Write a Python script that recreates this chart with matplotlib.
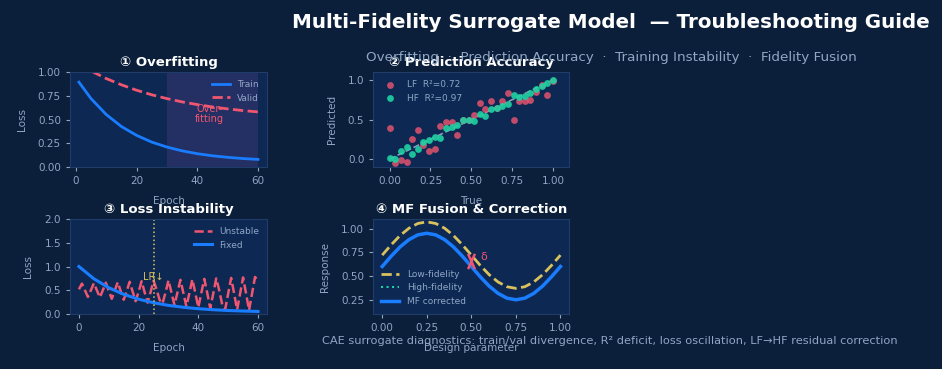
"""Multi-fidelity surrogate troubleshooting card (4 small diagnostic panels)."""

import matplotlib
matplotlib.use("Agg")
import matplotlib.pyplot as plt
import numpy as np
from matplotlib.path import Path

BG = "#0b1f3b"
AX_BG = "#0c2853"
SPINE = "#1f3d68"
MUTED = "#8fa6c4"
PINK = "#f0566f"
BLUE = "#1a7cff"
TEAL = "#1fd2a2"
GOLD = "#d9c25e"

# ① overfitting
fit_epochs = [1, 5, 10, 15, 20, 25, 30, 35, 40, 45, 50, 55, 60]
train_loss = [0.893, 0.719, 0.552, 0.426, 0.333, 0.262, 0.210, 0.170, 0.140, 0.118, 0.102, 0.089, 0.080]
valid_loss = [1.085, 1.011, 0.931, 0.865, 0.808, 0.760, 0.720, 0.685, 0.657, 0.632, 0.612, 0.594, 0.580]

# ② prediction accuracy (30 samples on an even grid of true values)
lf_pred = [0.39, -0.05, -0.01, -0.04, 0.25, 0.37, 0.18, 0.10, 0.13, 0.42,
           0.47, 0.47, 0.30, 0.49, 0.50, 0.56, 0.71, 0.63, 0.73, 0.65,
           0.73, 0.83, 0.50, 0.73, 0.73, 0.75, 0.85, 0.93, 0.81, 0.99]
hf_pred = [0.02, 0.00, 0.10, 0.15, 0.06, 0.125, 0.21, 0.24, 0.275, 0.27,
           0.39, 0.41, 0.43, 0.50, 0.50, 0.48, 0.57, 0.55, 0.63, 0.646,
           0.67, 0.69, 0.81, 0.79, 0.80, 0.84, 0.88, 0.92, 0.96, 1.00]

# ③ loss instability
osc_epochs = list(range(61))
unstable_loss = [0.52, 0.64, 0.50, 0.36, 0.50, 0.65, 0.50, 0.35, 0.50, 0.66,
                 0.49, 0.32, 0.49, 0.67, 0.48, 0.30, 0.48, 0.68, 0.47, 0.27,
                 0.47, 0.69, 0.46, 0.24, 0.46, 0.70, 0.52, 0.30, 0.22, 0.45,
                 0.71, 0.45, 0.19, 0.45, 0.72, 0.44, 0.16, 0.44, 0.73, 0.44,
                 0.14, 0.44, 0.74, 0.44, 0.12, 0.43, 0.75, 0.50, 0.20, 0.10,
                 0.43, 0.76, 0.43, 0.09, 0.43, 0.77, 0.43, 0.08, 0.43, 0.78,
                 0.70]
fixed_epochs = [0, 5, 10, 15, 20, 25, 30, 35, 40, 45, 50, 55, 60]
fixed_loss = [1.00, 0.742, 0.553, 0.414, 0.312, 0.237, 0.182, 0.142, 0.112, 0.090, 0.074, 0.063, 0.054]
lr_drop_epoch = 25

# ④ multi-fidelity fusion
design_x = [0.00, 0.05, 0.10, 0.15, 0.20, 0.25, 0.30, 0.35, 0.40, 0.45, 0.50,
            0.55, 0.60, 0.65, 0.70, 0.75, 0.80, 0.85, 0.90, 0.95, 1.00]
lf_response = [0.720, 0.828, 0.926, 1.003, 1.053, 1.070, 1.053, 1.003, 0.926, 0.828, 0.720,
               0.612, 0.514, 0.437, 0.387, 0.370, 0.387, 0.437, 0.514, 0.612, 0.720]
hf_response = [0.600, 0.708, 0.806, 0.883, 0.933, 0.950, 0.933, 0.883, 0.806, 0.708, 0.600,
               0.492, 0.394, 0.317, 0.267, 0.250, 0.267, 0.317, 0.394, 0.492, 0.600]
mf_response = hf_response
delta_x = 0.5
delta_y = 0.66


def style(ax, title, xlabel, ylabel):
    ax.set_facecolor(AX_BG)
    for sp in ax.spines.values():
        sp.set_color(SPINE)
        sp.set_linewidth(0.8)
    ax.tick_params(colors=MUTED, labelsize=7.5, length=3, width=0.8)
    ax.set_title(title, color="white", fontsize=9.5, weight="bold", pad=4)
    ax.set_xlabel(xlabel, color=MUTED, fontsize=7.5, labelpad=7)
    ax.set_ylabel(ylabel, color=MUTED, fontsize=7.5, labelpad=8)


def legend(ax, **kw):
    return ax.legend(frameon=False, fontsize=6.5, labelcolor=MUTED, **kw)


fig = plt.figure(figsize=(9.42, 3.69), dpi=100)
fig.patch.set_facecolor(BG)

ax1 = fig.add_axes([0.0743, 0.5474, 0.2091, 0.2575])
ax2 = fig.add_axes([0.3963, 0.5474, 0.2081, 0.2575])
ax3 = fig.add_axes([0.0743, 0.149, 0.2091, 0.2575])
ax4 = fig.add_axes([0.3963, 0.149, 0.2081, 0.2575])

# ① overfitting
ax1.axvspan(30, 60, color="#7a4c9c", alpha=0.22, lw=0)
ax1.plot(fit_epochs, train_loss, color=BLUE, lw=2, label="Train")
ax1.plot(fit_epochs, valid_loss, color=PINK, lw=2, ls="--", label="Valid")
ax1.text(44, 0.56, "Over-\nfitting", color=PINK, fontsize=7, ha="center",
         va="center", linespacing=1.0)
ax1.set_ylim(0, 1)
ax1.set_yticks([0, 0.25, 0.5, 0.75, 1.0])
ax1.set_xticks([0, 20, 40, 60])
style(ax1, "① Overfitting", "Epoch", "Loss")
legend(ax1, loc="upper right")

# ② prediction accuracy
true_vals = np.linspace(0, 1, len(hf_pred))
ax2.plot([0, 1], [0, 1], color="#a9bad3", lw=1.2, ls="--", alpha=0.8)
ax2.scatter(true_vals, lf_pred, s=24, color=PINK, alpha=0.8, lw=0,
            label="LF  R²=0.72", zorder=3)
ax2.scatter(true_vals, hf_pred, s=24, color=TEAL, alpha=0.9, lw=0,
            label="HF  R²=0.97", zorder=3)
ax2.set_xlim(-0.1, 1.1)
ax2.set_ylim(-0.1, 1.1)
ax2.set_xticks([0, 0.25, 0.5, 0.75, 1.0])
ax2.set_yticks([0, 0.5, 1.0])
style(ax2, "② Prediction Accuracy", "True", "Predicted")
legend(ax2, loc="upper left")

# ③ loss instability
ax3.plot(osc_epochs, unstable_loss, color=PINK, lw=1.8, ls="--", label="Unstable")
ax3.plot(fixed_epochs, fixed_loss, color=BLUE, lw=2.2, label="Fixed")
ax3.axvline(lr_drop_epoch, color=GOLD, lw=1.1, ls=":")
ax3.text(lr_drop_epoch, 0.78, "LR↓", color=GOLD, fontsize=7, ha="center", va="center")
ax3.set_ylim(0, 2)
ax3.set_yticks([0, 0.5, 1.0, 1.5, 2.0])
ax3.set_xticks([0, 20, 40, 60])
style(ax3, "③ Loss Instability", "Epoch", "Loss")
legend(ax3, loc="upper right")

# ④ multi-fidelity fusion
tall_x = Path([(-0.45, -1), (0.45, 1), (-0.45, 1), (0.45, -1)],
              [Path.MOVETO, Path.LINETO, Path.MOVETO, Path.LINETO])
ax4.plot(design_x, lf_response, color=GOLD, lw=2, ls="--", label="Low-fidelity")
ax4.plot(design_x, hf_response, color=TEAL, lw=1.5, ls=":", label="High-fidelity")
ax4.plot(design_x, mf_response, color=BLUE, lw=2.5, label="MF corrected")
ax4.plot([delta_x], [delta_y], marker=tall_x, ms=11, mew=1.8, color=PINK, ls="none")
ax4.text(delta_x + 0.07, delta_y + 0.04, "δ", color=PINK, fontsize=8, ha="center", va="center")
ax4.set_ylim(0.1, 1.1)
ax4.set_yticks([0.25, 0.5, 0.75, 1.0])
ax4.set_xticks([0, 0.25, 0.5, 0.75, 1.0])
style(ax4, "④ MF Fusion & Correction", "Design parameter", "Response")
legend(ax4, loc="lower left")

fig.text(0.6486, 0.9377, "Multi-Fidelity Surrogate Model  — Troubleshooting Guide",
         color="white", fontsize=14.3, weight="bold", ha="center", va="center")
fig.text(0.6486, 0.8455,
         "Overfitting  ·  Prediction Accuracy  ·  Training Instability  ·  Fidelity Fusion",
         color=MUTED, fontsize=9.7, ha="center", va="center")
fig.text(0.6475, 0.0759,
         "CAE surrogate diagnostics: train/val divergence, R² deficit, loss oscillation, "
         "LF→HF residual correction", color=MUTED, fontsize=8.2, ha="center", va="center")

fig.savefig("out.png", facecolor=fig.get_facecolor())
plt.close(fig)
